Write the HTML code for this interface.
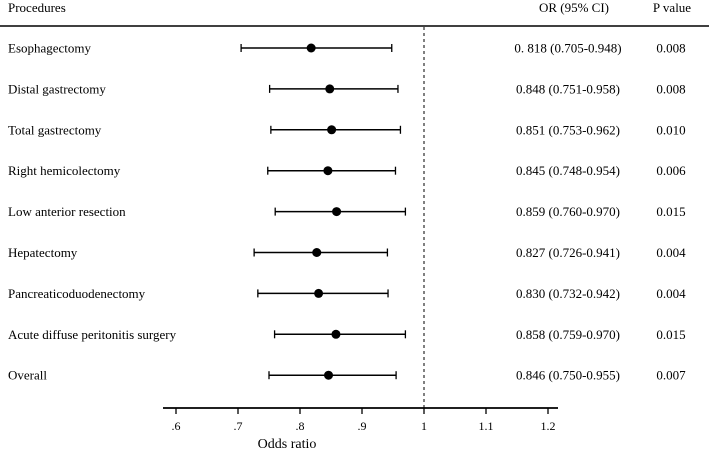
<!DOCTYPE html>
<html><head><meta charset="utf-8"><style>
html,body{margin:0;padding:0;background:#fff;}
svg{display:block;font-family:"Liberation Serif",serif;}
</style></head><body>
<svg id="chart" width="709" height="452">
<text x="8" y="12" font-size="13">Procedures</text>
<text x="574" y="12" font-size="13" text-anchor="middle">OR (95% CI)</text>
<text x="672" y="12" font-size="13" text-anchor="middle">P value</text>
<line x1="0" y1="26" x2="709" y2="26" stroke="#000" stroke-width="1.5"/>
<g id="rows"></g>
</svg>
<script>
const procedures=["Esophagectomy","Distal gastrectomy","Total gastrectomy","Right hemicolectomy","Low anterior resection","Hepatectomy","Pancreaticoduodenectomy","Acute diffuse peritonitis surgery","Overall"];
const orValues=[0.818,0.848,0.851,0.845,0.859,0.827,0.830,0.858,0.846];
const ciLow=[0.705,0.751,0.753,0.748,0.760,0.726,0.732,0.759,0.750];
const ciHigh=[0.948,0.958,0.962,0.954,0.970,0.941,0.942,0.970,0.955];
const orLabels=["0. 818 (0.705-0.948)","0.848 (0.751-0.958)","0.851 (0.753-0.962)","0.845 (0.748-0.954)","0.859 (0.760-0.970)","0.827 (0.726-0.941)","0.830 (0.732-0.942)","0.858 (0.759-0.970)","0.846 (0.750-0.955)"];
const pValues=["0.008","0.008","0.010","0.006","0.015","0.004","0.004","0.015","0.007"];
const tickValues=[0.6,0.7,0.8,0.9,1,1.1,1.2];
const tickLabels=[".6",".7",".8",".9","1","1.1","1.2"];

const NS="http://www.w3.org/2000/svg";
const svg=document.getElementById('chart');
const xS=v=>176+(v-0.6)*620;
const yS=i=>48+i*40.9;
function mk(tag,attrs,parent){const e=document.createElementNS(NS,tag);for(const k in attrs)e.setAttribute(k,attrs[k]);(parent||svg).appendChild(e);return e;}

const ref=mk('line',{x1:xS(1),y1:27,x2:xS(1),y2:408,stroke:'#000','stroke-width':1,'stroke-dasharray':'3,3'});



procedures.forEach((p,i)=>{
  const y=yS(i);
  const g=mk('g',{});
  
  
  const t=mk('text',{x:8,y:y+4.5,'font-size':13},g);t.textContent=p;
  
  
  const ci=mk('line',{x1:xS(ciLow[i]),y1:y,x2:xS(ciHigh[i]),y2:y,stroke:'#000','stroke-width':1.5},g);
  
  
  [ciLow[i],ciHigh[i]].forEach(v=>{const c=mk('line',{x1:xS(v),y1:y-4,x2:xS(v),y2:y+4,stroke:'#000','stroke-width':1.3},g);
    
    });
  const d=mk('circle',{cx:xS(orValues[i]),cy:y,r:4.5,fill:'#000'},g);
  
  
  const o=mk('text',{x:568,y:y+4.5,'font-size':13,'text-anchor':'middle'},g);o.textContent=orLabels[i];
  
  
  const pv=mk('text',{x:671,y:y+4.5,'font-size':13,'text-anchor':'middle'},g);pv.textContent=pValues[i];
  
  
});

const ax=mk('line',{x1:163,y1:408,x2:558,y2:408,stroke:'#000','stroke-width':1.8});


tickValues.forEach((v,i)=>{
  const tk=mk('line',{x1:xS(v),y1:408,x2:xS(v),y2:414,stroke:'#000','stroke-width':1.3});
  
  
  const tl=mk('text',{x:xS(v),y:430,'font-size':12,'text-anchor':'middle'});tl.textContent=tickLabels[i];
  
  
});
const xt=mk('text',{x:287,y:448,'font-size':14,'text-anchor':'middle'});xt.textContent='Odds ratio';


</script>
</body></html>
